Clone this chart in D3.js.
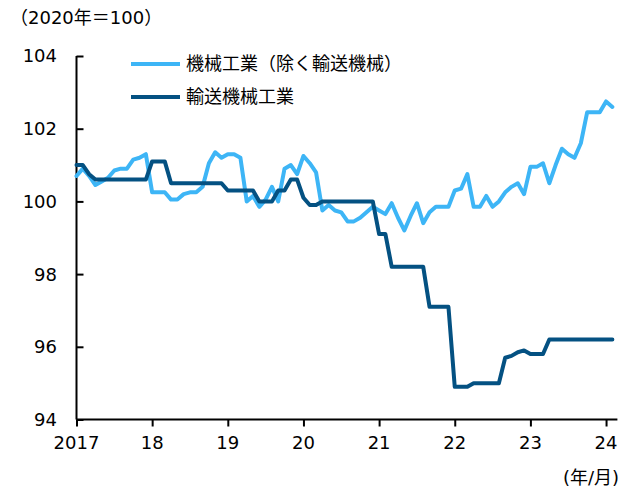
<!DOCTYPE html>
<html>
<head>
<meta charset="utf-8">
<script src="https://cdn.jsdelivr.net/npm/d3@7"></script>
<style>
  body { margin: 0; background: #fff; }
  svg text { font-family: "DejaVu Sans", "Noto Sans CJK JP", sans-serif; fill: #000; }
</style>
</head>
<body>
<svg id="chart" width="620" height="488"></svg>
<script>
"use strict";

// 月次データ：2017年1月〜2024年2月
var startYear = 2017;
var seriesNames = ["機械工業（除く輸送機械）", "輸送機械工業"];
var machinery = [
  100.7, 100.9, 100.7, 100.45, 100.55, 100.65, 100.85, 100.9, 100.9, 101.15, 101.2, 101.3,
  100.25, 100.25, 100.25, 100.05, 100.05, 100.2, 100.25, 100.25, 100.4, 101.05, 101.35, 101.2,
  101.3, 101.3, 101.2, 100.0, 100.15, 99.85, 100.05, 100.4, 100.0, 100.9, 101.0, 100.75,
  101.25, 101.05, 100.8, 99.75, 99.9, 99.75, 99.7, 99.45, 99.45, 99.55, 99.7, 99.85,
  99.75, 99.65, 99.95, 99.55, 99.2, 99.6, 99.95, 99.4, 99.7, 99.85, 99.85, 99.85,
  100.3, 100.35, 100.75, 99.85, 99.85, 100.15, 99.85, 100.0, 100.25, 100.4, 100.5, 100.2,
  100.95, 100.95, 101.05, 100.5, 101.0, 101.45, 101.3, 101.2, 101.6, 102.45, 102.45, 102.45,
  102.75, 102.6
];
var transport = [
  101.0, 101.0, 100.75, 100.6, 100.6, 100.6, 100.6, 100.6, 100.6, 100.6, 100.6, 100.6,
  101.1, 101.1, 101.1, 100.5, 100.5, 100.5, 100.5, 100.5, 100.5, 100.5, 100.5, 100.5,
  100.3, 100.3, 100.3, 100.3, 100.3, 100.0, 100.0, 100.0, 100.3, 100.3, 100.6, 100.6,
  100.1, 99.9, 99.9, 100.0, 100.0, 100.0, 100.0, 100.0, 100.0, 100.0, 100.0, 100.0,
  99.1, 99.1, 98.2, 98.2, 98.2, 98.2, 98.2, 98.2, 97.1, 97.1, 97.1, 97.1,
  94.9, 94.9, 94.9, 95.0, 95.0, 95.0, 95.0, 95.0, 95.7, 95.75, 95.85, 95.9,
  95.8, 95.8, 95.8, 96.2, 96.2, 96.2, 96.2, 96.2, 96.2, 96.2, 96.2, 96.2,
  96.2, 96.2
];
var yearTicks = [2017, 2018, 2019, 2020, 2021, 2022, 2023, 2024];
var yearLabels = ["2017", "18", "19", "20", "21", "22", "23", "24"];
var yTicks = [94, 96, 98, 100, 102, 104];
var colors = ["#3db5f6", "#045182"];

var svg = d3.select("#chart");

var x = d3.scaleLinear().domain([2017, 2024.15]).range([76.5, 617.4]);
var y = d3.scaleLinear().domain([94, 104]).range([419.5, 56]);

function toPoints(values) {
  return values.map(function (v, i) { return { t: startYear + i / 12, v: v }; });
}

// 軸
var yAxis = svg.append("g")
  .attr("transform", "translate(" + x(2017) + ",0)")
  .call(d3.axisRight(y).tickValues(yTicks).tickSize(7).tickFormat(""));
yAxis.select(".domain").attr("stroke", "#000").attr("stroke-width", 2).attr("d", "M0," + y(104) + "V" + y(94));
yAxis.selectAll(".tick line").attr("stroke", "#000").attr("stroke-width", 2);

svg.append("g").selectAll("text")
  .data(yTicks)
  .enter()
  .append("text")
  .attr("x", 57)
  .attr("y", function (d) { return y(d); })
  .attr("dy", "0.36em")
  .attr("text-anchor", "end")
  .attr("font-size", 18)
  .text(function (d) { return d; });

var xAxis = svg.append("g")
  .attr("transform", "translate(0," + y(94) + ")")
  .call(d3.axisBottom(x).tickValues(yearTicks).tickSize(7).tickFormat(""));
xAxis.select(".domain").attr("stroke", "#000").attr("stroke-width", 2).attr("d", "M" + x(2017) + ",0H" + x(2024.15));
xAxis.selectAll(".tick line").attr("stroke", "#000").attr("stroke-width", 2);

svg.append("g").selectAll("text")
  .data(yearTicks)
  .enter()
  .append("text")
  .attr("x", function (d) { return x(d); })
  .attr("y", 443)
  .attr("dy", "0.36em")
  .attr("text-anchor", "middle")
  .attr("font-size", 18)
  .text(function (d, i) { return yearLabels[i]; });

// 系列
var line = d3.line()
  .x(function (d) { return x(d.t); })
  .y(function (d) { return y(d.v); })
  .curve(d3.curveLinear);

[machinery, transport].forEach(function (values, i) {
  svg.append("path")
    .datum(toPoints(values))
    .attr("fill", "none")
    .attr("stroke", colors[i])
    .attr("stroke-width", 4)
    .attr("stroke-linejoin", "round")
    .attr("stroke-linecap", "round")
    .attr("d", line);
});

// 凡例
var legend = svg.selectAll(".legend")
  .data(seriesNames)
  .enter()
  .append("g")
  .attr("class", "legend")
  .attr("transform", function (d, i) { return "translate(131," + (64 + i * 33) + ")"; });

legend.append("line")
  .attr("x1", 0).attr("x2", 49)
  .attr("stroke", function (d, i) { return colors[i]; })
  .attr("stroke-width", 4);

legend.append("text")
  .attr("x", 55)
  .attr("dy", "0.36em")
  .attr("font-size", 18)
  .text(function (d) { return d; });

// 単位
svg.append("text")
  .attr("x", 10).attr("y", 18)
  .attr("dy", "0.36em")
  .attr("font-size", 18)
  .text("（2020年＝100）");

svg.append("text")
  .attr("x", 619).attr("y", 478)
  .attr("dy", "0.36em")
  .attr("text-anchor", "end")
  .attr("font-size", 18)
  .text("(年/月)");
</script>
</body>
</html>
